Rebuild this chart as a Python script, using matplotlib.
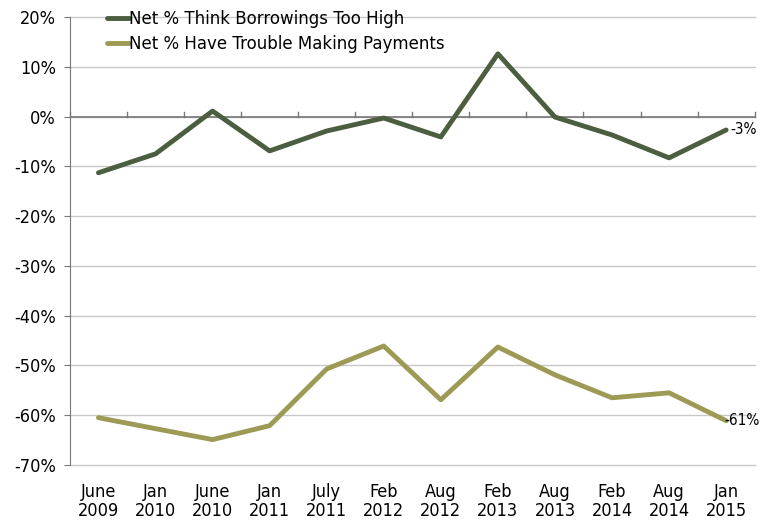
import matplotlib
matplotlib.use("Agg")
import matplotlib.pyplot as plt
import numpy as np

categories = ["June\n2009", "Jan\n2010", "June\n2010", "Jan\n2011", "July\n2011", "Feb\n2012",
              "Aug\n2012", "Feb\n2013", "Aug\n2013", "Feb\n2014", "Aug\n2014", "Jan\n2015"]
borrowings_high = [-11.3, -7.5, 1.1, -6.9, -2.9, -0.3, -4.1, 12.6, -0.1, -3.7, -8.3, -2.7]
trouble_payments = [-60.5, -62.7, -64.9, -62.1, -50.7, -46.1, -56.9, -46.3, -51.9, -56.5, -55.5, -61.1]
series_names = ["Net % Think Borrowings Too High", "Net % Have Trouble Making Payments"]
end_labels = ["-3%", "-61%"]
yticks = list(range(-70, 21, 10))

dark = "#4B5E3F"
olive = "#9C9A55"

fig = plt.figure(figsize=(7.6, 5.24), dpi=100)
ax = fig.add_axes([0.092, 0.1126, 0.901, 0.855])

x = np.arange(len(categories))
ax.plot(x, borrowings_high, color=dark, lw=3.5, label=series_names[0], solid_capstyle="round", zorder=3)
ax.plot(x, trouble_payments, color=olive, lw=3.5, label=series_names[1], solid_capstyle="round", zorder=3)

ax.set_xlim(-0.5, len(categories) - 0.5)
ax.set_ylim(-70, 20)
ax.set_yticks(yticks)
ax.set_yticklabels([f"{v}%" for v in yticks], fontsize=13, fontstretch="condensed")
for v in yticks:
    ax.axhline(v, color="#C8C8C8", lw=1, zorder=1, clip_on=False)

ax.set_xticks(x)
ax.set_xticklabels(categories, fontsize=13, fontstretch="condensed", linespacing=1.05)
ax.tick_params(axis="x", length=0, pad=13)
ax.tick_params(axis="y", length=4, color="#777777", pad=6)

for s in ["top", "right", "bottom"]:
    ax.spines[s].set_visible(False)
ax.spines["left"].set_color("#777777")
ax.spines["left"].set_zorder(2)

# category axis crossing at 0 with upward ticks between categories
ax.axhline(0, color="#777777", lw=1.2, zorder=2)
for b in np.arange(-0.5, len(categories), 1.0):
    ax.plot([b, b], [0, 0.9], color="#777777", lw=1, zorder=2, clip_on=False)

ax.annotate(end_labels[0], (x[-1], borrowings_high[-1]), xytext=(3, 0), textcoords="offset points",
            fontsize=11, fontstretch="condensed", va="center", ha="left", annotation_clip=False)
ax.annotate(end_labels[1], (x[-1], trouble_payments[-1]), xytext=(-1, 0), textcoords="offset points",
            fontsize=11, fontstretch="condensed", va="center", ha="left", annotation_clip=False)

leg = ax.legend(loc="upper left", bbox_to_anchor=(0.045, 1.03), frameon=False, fontsize=12,
                handlelength=1.3, handletextpad=0.0, labelspacing=0.4, borderaxespad=0)

fig.savefig("out.png", dpi=100)
